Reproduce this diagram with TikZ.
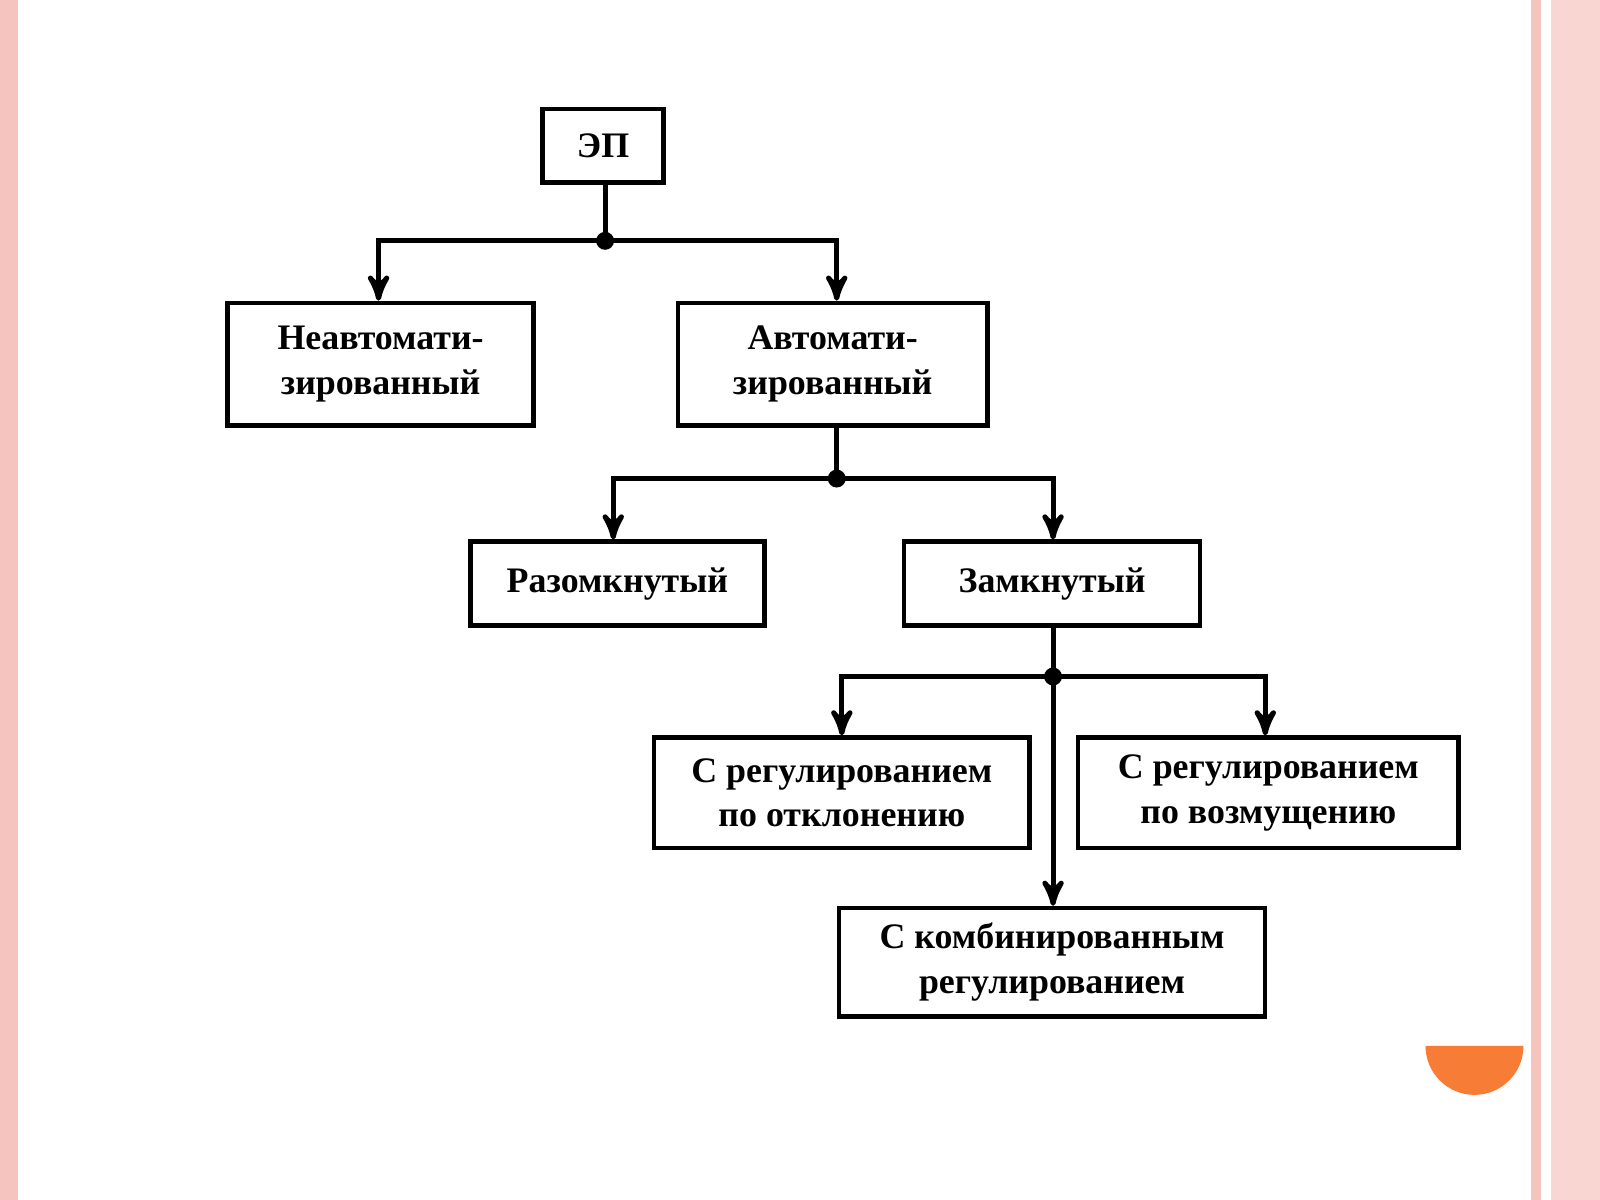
\documentclass[tikz,border=0pt]{standalone}
\usepackage{fontspec}
\setmainfont{Liberation Serif}
\usetikzlibrary{arrows,positioning}
\definecolor{slidepink}{RGB}{246,196,190}
\definecolor{slideorange}{RGB}{247,125,55}
\tikzset{
  box/.style={rectangle, draw=black, line width=1.3pt, align=center, inner sep=0pt,
    font=\fontsize{10}{12.5}\selectfont\bfseries},
  link/.style={line width=1.4pt, ->, >=stealth'},
  joint/.style={circle, fill=black, inner sep=0pt, minimum size=5pt}
}
\begin{document}
\begin{tikzpicture}[x=0.01cm, y=-0.01cm]
\useasboundingbox (0,0) rectangle (1568,1176);
% slide frame
\fill[slidepink] (0,0) rectangle (18,1176);
\fill[slidepink] (1500,0) rectangle (1510,1176);
\fill[slidepink!70] (1520,0) rectangle (1568,1176);
\fill[slideorange] (1397,1025) arc[start angle=180, end angle=0, radius=48] -- cycle;
% boxes
\node (ep) [box, minimum width=1.19cm, minimum height=0.72cm] at (591,143) {ЭП};
\node (manual) [box, minimum width=3cm, minimum height=1.2cm] at (373,357) {Неавтомати-\\зированный};
\node (auto) [box, minimum width=3.03cm, minimum height=1.2cm] at (816,357) {Автомати-\\зированный};
\node (open) [box, minimum width=2.88cm, minimum height=0.82cm] at (605,572) {Разомкнутый};
\node (closed) [box, minimum width=2.9cm, minimum height=0.82cm] at (1031,572) {Замкнутый};
\node (dev) [box, minimum width=3.68cm, minimum height=1.08cm] at (825,777) {С регулированием\\по отклонению};
\node (dist) [box, minimum width=3.73cm, minimum height=1.08cm] at (1243,777) {С регулированием\\по возмущению};
\node (comb) [box, minimum width=4.17cm, minimum height=1.06cm] at (1031,943) {С комбинированным\\регулированием};
% junctions
\node (j1) [joint] at (593,236) {};
\node (j2) [joint] at (820,469) {};
\node (j3) [joint] at (1032,663) {};
% connectors
\draw[line width=1.4pt] (ep.south -| j1) -- (j1.center);
\draw[link] (j1.center) -| (manual.north -| 371,0);
\draw[link] (j1.center) -| (auto.north -| j2);
\draw[line width=1.4pt] (auto.south -| j2) -- (j2.center);
\draw[link] (j2.center) -| (open.north -| 601,0);
\draw[link] (j2.center) -| (closed.north -| j3);
\draw[line width=1.4pt] (closed.south -| j3) -- (j3.center);
\draw[link] (j3.center) -| (dev.north);
\draw[link] (j3.center) -| (dist.north -| 1240,0);
\draw[link] (j3.center) -- (comb.north -| j3);
\end{tikzpicture}
\end{document}
